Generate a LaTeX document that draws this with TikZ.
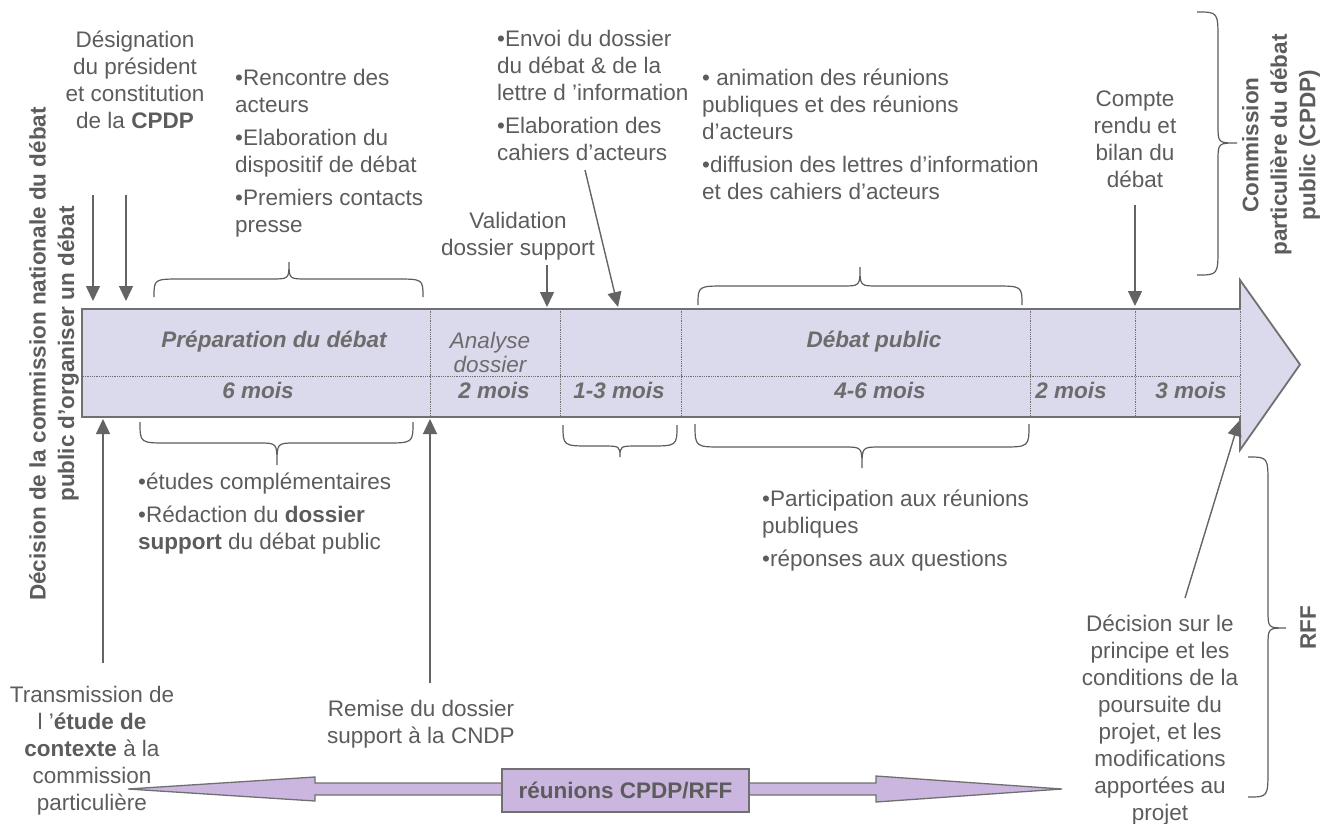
\documentclass[tikz,border=0pt]{standalone}
\usepackage{fontspec}
\setmainfont{Liberation Sans}
\usetikzlibrary{arrows.meta}
\definecolor{txt}{RGB}{92,92,92}
\definecolor{lav}{RGB}{219,217,236}
\definecolor{purp}{RGB}{202,182,222}
\definecolor{edgec}{RGB}{112,112,112}
\definecolor{arrc}{RGB}{100,100,100}
\tikzset{
  every node/.style={inner sep=0pt, text=txt, font=\fontsize{22.5}{27}\selectfont},
  lbl/.style={align=left, anchor=north west},
  clbl/.style={align=center, anchor=north},
  vlbl/.style={align=center, rotate=90, font=\fontsize{22.5}{28.5}\selectfont\bfseries},
  cellb/.style={anchor=base, font=\fontsize{22.5}{27}\selectfont\bfseries\itshape, text=txt!90!white},
  celli/.style={anchor=north, align=center, font=\fontsize{22.5}{22}\selectfont\itshape, text=txt!90!white},
  arr/.style={draw=arrc, line width=1.4pt, -{Triangle[length=15pt,width=14pt]}},
  brc/.style={draw=txt, line width=1.2pt},
  bodyst/.style={fill=lav, draw=edgec, line width=1.8pt, line join=miter},
  dots/.style={draw=edgec, line width=0.8pt, densely dotted},
  purpst/.style={fill=purp, draw=edgec, line width=1.3pt},
}
\newcommand\mybrH[6]{% x1,x2,xm,yb,ym,yt
  \draw[brc] (#1,#4) .. controls (#1,#5) .. ({#1+28},#5) -- ({#3-18},#5) .. controls (#3,#5) .. (#3,#6) .. controls (#3,#5) .. ({#3+18},#5) -- ({#2-28},#5) .. controls (#2,#5) .. (#2,#4);}
\newcommand\mybrV[6]{% xe,xl,xt,y1,ym,y2
  \draw[brc] (#1,#4) .. controls (#2,#4) .. (#2,{#4+28}) -- (#2,{#5-18}) .. controls (#2,#5) .. (#3,#5) .. controls (#2,#5) .. (#2,{#5+18}) -- (#2,{#6-28}) .. controls (#2,#6) .. (#1,#6);}
\begin{document}
\begin{tikzpicture}[x=1pt,y=-1pt]
\useasboundingbox (0,0) rectangle (1330,823);

% main timeline arrow
\draw[bodyst] (82,309) -- (1240,309) -- (1240,280) -- (1300,364.5) -- (1240,450) -- (1240,417) -- (82,417) -- cycle;
\foreach \x in {430,560,681,1030,1135,1240} \draw[dots] (\x,310.5) -- (\x,415.5);
\draw[dots] (83,376) -- (1239,376);

% cell labels
\node[cellb] (prep) at (274,347) {Préparation du débat};
\node[celli] (anal) at (490,331.6) {\strut Analyse\\dossier};
\node[cellb] (deb) at (874,347) {Débat public};
\node[cellb] (m1) at (258,398) {6 mois};
\node[cellb] (m2) at (494,398) {2 mois};
\node[cellb] (m3) at (619,398) {1-3 mois};
\node[cellb] (m4) at (880,398) {4-6 mois};
\node[cellb] (m5) at (1071,398) {2 mois};
\node[cellb] (m6) at (1191,398) {3 mois};

% vertical texts
\node[vlbl] (decis) at (54,354) {Décision de la commission nationale du débat\\public d’organiser un débat};
\node[vlbl] (cpdp) at (1281,145) {Commission\\particulière du débat\\public (CPDP)};
\node[vlbl] (rff) at (1308,628) {RFF};

% top texts
\node[clbl] (desig) at (135,28) {\strut Désignation\\du président\\et constitution\\de la \textbf{CPDP}};
\node[lbl] (renc) at (235,66) {\strut •Rencontre des\\acteurs\\[6pt]•Elaboration du\\dispositif de débat\\[6pt]•Premiers contacts\\presse};
\node[clbl] (valid) at (518,209) {\strut Validation\\dossier support};
\node[lbl] (envoi) at (497,27) {\strut •Envoi du dossier\\du débat \& de la\\lettre d ’information\\[6pt]•Elaboration des\\cahiers d’acteurs};
\node[lbl] (anim) at (702,66) {\strut • animation des réunions\\publiques et des réunions\\d’acteurs\\[6pt]•diffusion des lettres d’information\\et des cahiers d’acteurs};
\node[clbl] (compte) at (1135,87) {\strut Compte\\rendu et\\bilan du\\débat};

% bottom texts
\node[lbl] (etudes) at (138,470) {\strut •études complémentaires\\[6pt]•Rédaction du \textbf{dossier}\\\textbf{support} du débat public};
\node[lbl] (partic) at (762,487) {\strut •Participation aux réunions\\publiques\\[6pt]•réponses aux questions};
\node[clbl] (transm) at (92,683) {\strut Transmission de\\l ’\textbf{étude de}\\\textbf{contexte} à la\\commission\\particulière};
\node[clbl] (remise) at (421,697) {\strut Remise du dossier\\support à la CNDP};
\node[clbl] (decision) at (1160,612) {\strut Décision sur le\\principe et les\\conditions de la\\poursuite du\\projet, et les\\modifications\\apportées au\\projet};

% braces
\mybrH{154}{423}{289}{297}{279}{262}
\mybrH{698}{1022}{860}{305}{286}{267}
\mybrH{140}{413}{277}{422}{443}{465}
\mybrH{563}{677}{620}{425}{446}{457}
\mybrH{695}{1029}{862}{424}{447}{468}
\mybrV{1197}{1218}{1237}{12}{143}{275}
\mybrV{1248}{1268}{1286}{457}{628}{797}

% arrows
\coordinate (a1s) at (93,195);  \coordinate (a1e) at (93,301);
\coordinate (a2s) at (126,195); \coordinate (a2e) at (126,301);
\coordinate (vs) at (547,265);  \coordinate (ve) at (547,307);
\coordinate (es) at (585,170);  \coordinate (ee) at (618,307);
\coordinate (cs) at (1135,205); \coordinate (ce) at (1135,306);
\coordinate (ts) at (103,663);  \coordinate (te) at (103,419);
\coordinate (rs) at (430,683);  \coordinate (re) at (430,419);
\coordinate (ds) at (1185,598); \coordinate (de) at (1239,421);
\draw[arr] (a1s) -- (a1e);
\draw[arr] (a2s) -- (a2e);
\draw[arr] (vs) -- (ve);
\draw[arr] (es) -- (ee);
\draw[arr] (cs) -- (ce);
\draw[arr] (ts) -- (te);
\draw[arr] (rs) -- (re);
\draw[arr] (ds) -- (de);

% bottom double arrow and box
\draw[purpst] (128,789) -- (315,777) -- (315,783) -- (876,783) -- (876,776) -- (1062,789) -- (876,802) -- (876,795) -- (315,795) -- (315,801) -- cycle;
\node[purpst, minimum width=247pt, minimum height=43pt, font=\fontsize{22.5}{27}\selectfont\bfseries] (reun) at (625.5,790.5) {réunions CPDP/RFF};
\end{tikzpicture}
\end{document}
